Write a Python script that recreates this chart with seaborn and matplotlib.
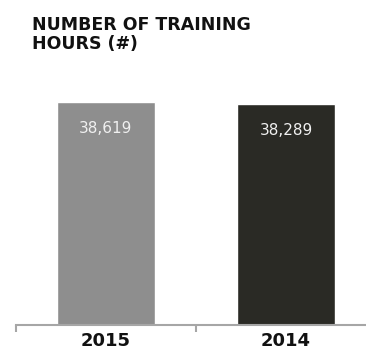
import matplotlib
matplotlib.use("Agg")
import matplotlib.pyplot as plt
import seaborn as sns
import pandas as pd

years = ["2015", "2014"]
hours = [38619, 38289]
bar_colors = ["#8e8e8e", "#2a2a25"]
title = "NUMBER OF TRAINING\nHOURS (#)"

sns.set_theme(style="white")
plt.rcParams["font.family"] = ["DejaVu Sans"]

W, H = 366, 352
fig = plt.figure(figsize=(W / 100, H / 100), dpi=100)

# axes in pixel terms: x from 16 to 376 (runs off the right edge), baseline at y=325
x0, x1 = 16, 376
y_base, y_top = 325, 60
ax = fig.add_axes([x0 / W, (H - y_base) / H, (x1 - x0) / W, (y_base - y_top) / H])

df = pd.DataFrame({"year": years, "hours": hours})
sns.barplot(data=df, x="year", y="hours", hue="year", palette=bar_colors,
            width=0.545, legend=False, ax=ax, saturation=1)

px_per_unit = 223 / hours[0]
ax.set_ylim(0, (y_base - y_top) / px_per_unit)
ax.set_xlim(-0.5, 1.5)

for spine in ["top", "right", "left"]:
    ax.spines[spine].set_visible(False)
ax.spines["bottom"].set_color("#a6a6a6")
ax.spines["bottom"].set_linewidth(1.5)

ax.set_yticks([])
ax.set_xticks([-0.5, 0.5, 1.5])
ax.set_xticklabels([])
ax.tick_params(axis="x", which="major", direction="out", length=5,
               width=1.5, color="#a6a6a6", bottom=True)
ax.set_xticks([0, 1], minor=True)
ax.set_xticklabels(years, minor=True, fontsize=13, fontweight="bold",
                   color="#111111")
ax.tick_params(axis="x", which="minor", length=0, pad=5)
ax.set_xlabel("")
ax.set_ylabel("")

for i, v in enumerate(hours):
    ax.annotate(f"{v:,}", xy=(i, v), xytext=(0, -19), textcoords="offset points",
                ha="center", va="center", fontsize=11, color="#f0f0f0")

fig.text(32 / W, 1 - 16 / H, title, ha="left", va="top", fontsize=12.5,
         fontweight="bold", color="#111111", linespacing=1.08)

fig.savefig("out.png", dpi=100)
